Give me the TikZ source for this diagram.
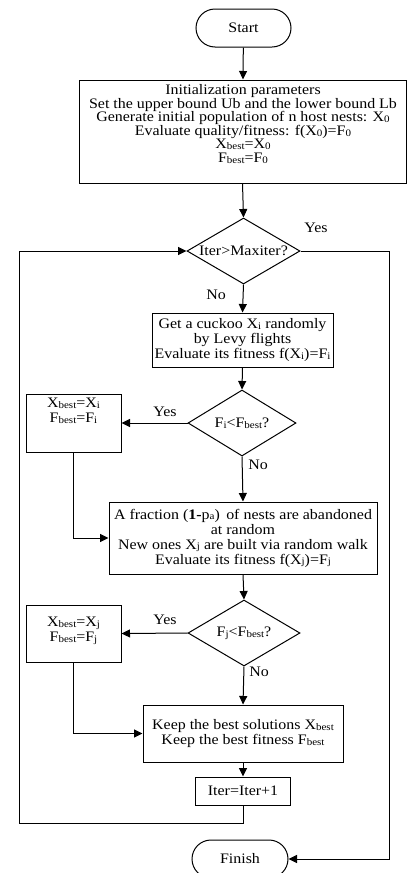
\documentclass[tikz,border=0pt]{standalone}
\usepackage{fontspec}
\setmainfont[FakeStretch=1.1]{Liberation Serif}
\usetikzlibrary{arrows.meta,shapes.geometric,shapes.misc}
\newcommand\sbx[1]{\raisebox{-0.6pt}{\fontsize{10}{10}\selectfont #1}}
\tikzset{
  every node/.style={font=\fontsize{14.5}{15}\selectfont},
  ln/.style={line width=1pt},
  arr/.style={ln,-{Triangle[length=8.5pt,width=8pt]}},
  boxx/.style={draw,ln,rectangle,inner sep=0pt,align=center},
  term/.style={draw,ln,rounded rectangle,inner sep=0pt,minimum width=95pt,minimum height=38pt},
  dia/.style={draw,ln,diamond,inner sep=0pt},
  lbl/.style={inner sep=0pt}
}
\begin{document}
\begin{tikzpicture}[x=1pt,y=-1pt]
\useasboundingbox (0,0) rectangle (407,873);
\node[term] (start) at (243.5,28) {Start};
\node[boxx,minimum width=327pt,minimum height=103pt] (init) at (242.5,131.5) {};
\node[lbl,align=center,font=\fontsize{14.5}{13.5}\selectfont] (initt) at (243,124) {Initialization parameters\\
Set the upper bound Ub and the lower bound Lb\\
Generate initial population of n host nests: X\sbx{0}\\
Evaluate quality/fitness: f(X\sbx{0})=F\sbx{0}\\
X\sbx{best}=X\sbx{0}\\
F\sbx{best}=F\sbx{0}};
\node[dia,minimum width=113pt,minimum height=66pt] (d1) at (243.5,251) {};
\node[lbl] (d1t) at (243.5,251) {Iter>Maxiter?};
\node[boxx,minimum width=181pt,minimum height=54pt] (b2) at (242.5,340) {Get a cuckoo X\sbx{i} randomly\\by Levy flights\\Evaluate its fitness f(X\sbx{i})=F\sbx{i}};
\node[dia,minimum width=108pt,minimum height=66pt] (d2) at (242,423) {};
\node[lbl] (d2t) at (242,423) {F\sbx{i}<F\sbx{best}?};
\node[boxx,minimum width=95pt,minimum height=58pt] (xb1) at (73.5,423) {};
\node[lbl,align=center] (xb1t) at (73.5,411) {X\sbx{best}=X\sbx{i}\\F\sbx{best}=F\sbx{i}};
\node[boxx,minimum width=268pt,minimum height=72pt] (b3) at (243,538) {A fraction (\textbf{1-}p\sbx{a})\,\ of nests are abandoned\\at random\\New ones X\sbx{j} are built via random walk\\Evaluate its fitness f(X\sbx{j})=F\sbx{j}};
\node[dia,minimum width=112pt,minimum height=66pt] (d3) at (244,633) {};
\node[lbl] (d3t) at (244,633) {F\sbx{j}<F\sbx{best}?};
\node[boxx,minimum width=95pt,minimum height=57pt] (xb2) at (73.5,633.5) {};
\node[lbl,align=center] (xb2t) at (73.5,631) {X\sbx{best}=X\sbx{j}\\F\sbx{best}=F\sbx{j}};
\node[boxx,minimum width=200pt,minimum height=57pt] (b5) at (243,733.5) {Keep the best solutions X\sbx{best}\\Keep the best fitness F\sbx{best}};
\node[boxx,minimum width=95pt,minimum height=28pt] (it) at (243,791) {Iter=Iter+1};
\node[term,minimum width=96pt] (fin) at (240,859) {Finish};
% labels
\node[lbl] (y1) at (316,228) {Yes};
\node[lbl] (n1) at (216,295) {No};
\node[lbl] (y2) at (165,412) {Yes};
\node[lbl] (n2) at (258,465) {No};
\node[lbl] (y3) at (165,620) {Yes};
\node[lbl] (n3) at (259,672) {No};
% connectors
\coordinate (l1) at (19,823);
\coordinate (l2) at (19,251);
\coordinate (r1) at (389,251);
\coordinate (r2) at (389,859);
\draw[arr] (start) -- (init);
\draw[arr] (init.south) -- (d1.north);
\draw[arr] (d1.south) -- (b2.north);
\draw[arr] (b2.south) -- (d2.north);
\draw[arr] (d2.west) -- (xb1.east);
\draw[arr] (d2.south) -- (b3.north);
\draw[arr] (xb1.south) |- (b3.west);
\draw[arr] (b3.south) -- (d3.north);
\draw[arr] (d3.west) -- (xb2.east);
\draw[arr] (d3.south) -- (b5.north);
\draw[arr] (xb2.south) |- (b5.west);
\draw[arr] (b5.south) -- (it.north);
\draw[arr] (it.south) |- (l1) -- (l2) -- (d1.west);
\draw[arr] (d1.east) -- (r1) -- (r2) -- (fin.east);
\end{tikzpicture}
\end{document}
